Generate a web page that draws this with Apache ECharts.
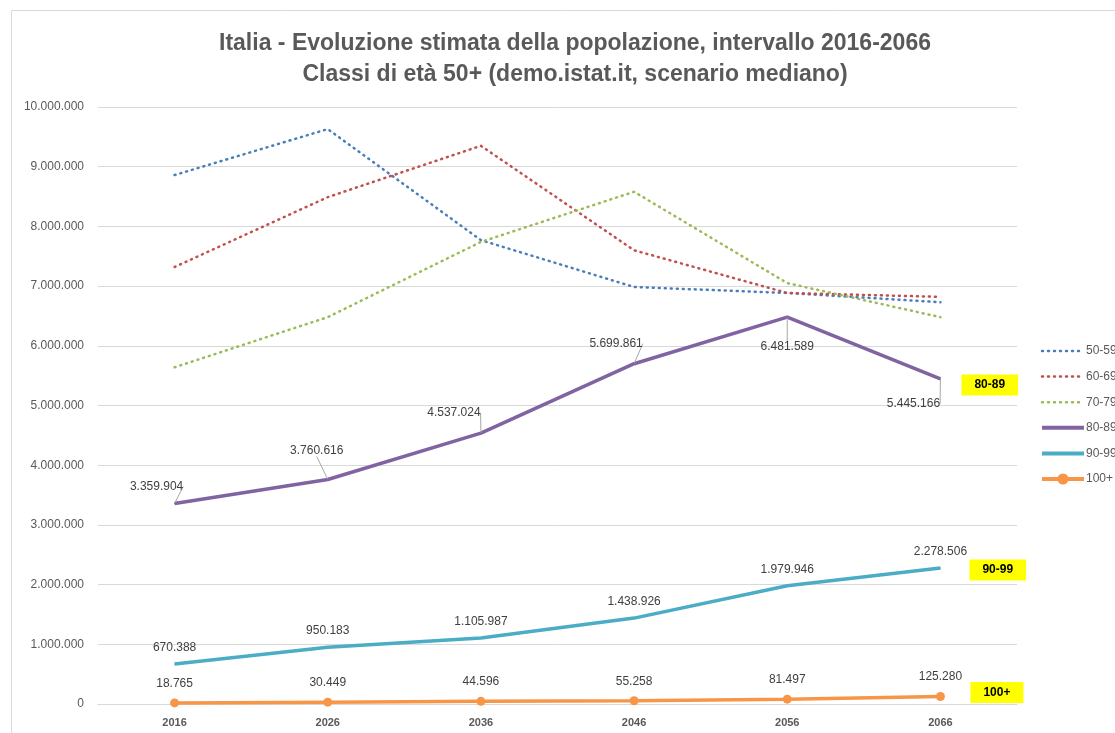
<!DOCTYPE html>
<html>
<head>
<meta charset="utf-8">
<script src="https://cdn.jsdelivr.net/npm/echarts@6/dist/echarts.min.js"></script>
<style>
  html, body { margin: 0; padding: 0; background: #fff; }
  #chart { width: 1115px; height: 733px; }
</style>
</head>
<body>
<div id="chart"></div>
<script>
// anni di proiezione
var anni = ["2016", "2026", "2036", "2046", "2056", "2066"];

// classi senza etichette
var classe5059 = [8860000, 9630000, 7770000, 6985000, 6885000, 6730000];
var classe6069 = [7320000, 8490000, 9350000, 7600000, 6885000, 6820000];
var classe7079 = [5640000, 6480000, 7740000, 8580000, 7050000, 6480000];

// classi con etichette
var classe8089 = [3359904, 3760616, 4537024, 5699861, 6481589, 5445166];
var classe9099 = [670388, 950183, 1105987, 1438926, 1979946, 2278506];
var classe100 = [18765, 30449, 44596, 55258, 81497, 125280];

var nomiClassi = ["50-59", "60-69", "70-79", "80-89", "90-99", "100+"];
var tickAsseY = [0, 10000000, 1000000];

function formatearNumero(numero) {
  return numero.toString().replace(/\B(?=(\d{3})+(?!\d))/g, ".");
}

var font = "'Liberation Sans', Arial, sans-serif";
var grigio = "#595959";

// spostamenti etichette 80-89 (stile Excel con linee guida)
var spostamenti8089 = [[-18, -17], [-11, -29], [-27, -20], [-18, -20], [0, 30], [-27, 25]];

function serieTratteggiata(nome, dati, colore) {
  return {
    name: nome,
    type: "line",
    data: dati,
    showSymbol: false,
    symbol: "none",
    lineStyle: { color: colore, width: 2.5, type: [1, 5], cap: "round" },
    itemStyle: { color: colore },
    z: 2,
  };
}

function etichettaNumero(distanza) {
  return {
    show: true,
    position: "top",
    distance: distanza,
    color: "#404040",
    fontSize: 12,
    fontFamily: font,
    formatter: function (p) {
      return formatearNumero(p.value);
    },
  };
}

function etichettaFinale(dx, dy) {
  return {
    show: true,
    formatter: "{a}",
    backgroundColor: "#ffff00",
    color: "#000",
    fontWeight: "bold",
    fontSize: 12,
    fontFamily: font,
    padding: [5, 13, 4, 13],
    distance: dx,
    offset: [0, dy],
  };
}

var legendaDati = nomiClassi.map(function (nome, i) {
  if (i < 3) return { name: nome, itemStyle: { opacity: 0 }, lineStyle: { width: 2.5 } };
  if (i < 5) return { name: nome, itemStyle: { opacity: 0 }, lineStyle: { width: 4 } };
  return { name: nome, lineStyle: { width: 4 } };
});

var option = {
  animation: false,
  textStyle: { fontFamily: font },
  title: {
    text: "Italia - Evoluzione stimata della popolazione, intervallo 2016-2066\nClassi di età 50+ (demo.istat.it, scenario mediano)",
    left: 570,
    textAlign: "center",
    top: 23,
    textStyle: {
      fontFamily: font,
      fontSize: 23,
      fontWeight: "bold",
      color: grigio,
      lineHeight: 31,
    },
  },
  graphic: [
    {
      type: "rect",
      shape: { x: 11.5, y: 10.5, width: 1120, height: 740 },
      style: { fill: "none", stroke: "#d9d9d9", lineWidth: 1 },
      silent: true,
    },
  ],
  legend: {
    orient: "vertical",
    left: 1040,
    top: 345,
    padding: 0,
    itemWidth: 42,
    itemHeight: 14,
    itemGap: 13.6,
    textStyle: { color: grigio, fontSize: 12, fontFamily: font, padding: [0, 0, 0, -3] },
    data: legendaDati,
  },
  grid: { left: 98, right: 98, top: 107, bottom: 29 },
  xAxis: {
    type: "category",
    data: anni,
    boundaryGap: true,
    axisLine: { show: true, lineStyle: { color: "#d9d9d9" } },
    axisTick: { show: false },
    axisLabel: { color: grigio, fontWeight: "bold", fontSize: 11, margin: 13, fontFamily: font },
  },
  yAxis: {
    type: "value",
    min: tickAsseY[0],
    max: tickAsseY[1],
    interval: tickAsseY[2],
    axisLine: { show: false },
    axisTick: { show: false },
    splitLine: { lineStyle: { color: "#d9d9d9", width: 1 } },
    axisLabel: {
      color: grigio,
      fontSize: 12,
      margin: 14,
      fontFamily: font,
      formatter: function (v) {
        return formatearNumero(v);
      },
    },
  },
  series: [
    serieTratteggiata(nomiClassi[0], classe5059, "#4a7ebb"),
    serieTratteggiata(nomiClassi[1], classe6069, "#c0504d"),
    serieTratteggiata(nomiClassi[2], classe7079, "#9bbb59"),
    {
      name: nomiClassi[3],
      type: "line",
      data: classe8089,
      symbol: "circle",
      symbolSize: 1,
      showSymbol: true,
      lineStyle: { color: "#8064a2", width: 3.5 },
      itemStyle: { color: "#8064a2" },
      label: {
        show: true,
        position: "inside",
        color: "#404040",
        fontSize: 12,
        fontFamily: font,
        formatter: function (p) {
          return formatearNumero(p.value);
        },
      },
      labelLine: { show: true, lineStyle: { color: "#a6a6a6", width: 1 } },
      labelLayout: function (p) {
        var s = spostamenti8089[p.dataIndex];
        if (!s || p.seriesIndex !== 3) return {};
        return { dx: s[0], dy: s[1] };
      },
      endLabel: etichettaFinale(21, 6),
      z: 3,
    },
    {
      name: nomiClassi[4],
      type: "line",
      data: classe9099,
      symbol: "circle",
      symbolSize: 1,
      showSymbol: true,
      lineStyle: { color: "#4bacc6", width: 3.5 },
      itemStyle: { color: "#4bacc6" },
      label: etichettaNumero(10),
      endLabel: etichettaFinale(29, 2),
      z: 3,
    },
    {
      name: nomiClassi[5],
      type: "line",
      data: classe100,
      symbol: "circle",
      symbolSize: 9,
      lineStyle: { color: "#f79646", width: 3.5 },
      itemStyle: { color: "#f79646" },
      label: etichettaNumero(9),
      endLabel: etichettaFinale(30, -4),
      z: 3,
    },
  ],
};

var myChart = echarts.init(document.getElementById("chart"), null, { renderer: "canvas" });
myChart.setOption(option);
window.addEventListener("resize", myChart.resize);
</script>
</body>
</html>
